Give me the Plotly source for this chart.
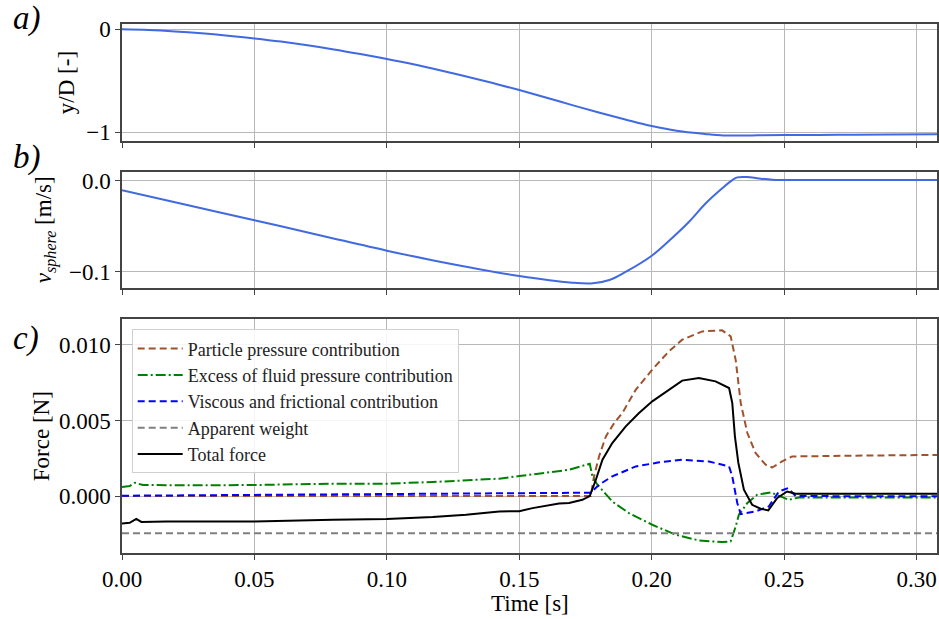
import plotly.graph_objects as go

# ---------------- data ----------------
# a) normalised vertical position
t_pos = [0, 0.01, 0.02, 0.03, 0.04, 0.05, 0.06, 0.07, 0.08, 0.09, 0.10, 0.11, 0.12, 0.13,
         0.14, 0.15, 0.16, 0.17, 0.18, 0.19, 0.20, 0.21, 0.22, 0.227, 0.235, 0.24, 0.25,
         0.27, 0.29, 0.3077]
y_pos = [0, -0.007, -0.020, -0.038, -0.061, -0.088, -0.119, -0.155, -0.195, -0.240, -0.288,
         -0.340, -0.397, -0.458, -0.522, -0.590, -0.662, -0.736, -0.808, -0.876, -0.940,
         -0.988, -1.016, -1.031, -1.032, -1.030, -1.027, -1.025, -1.022, -1.020]

# b) sphere velocity
t_vel = [0, 0.025, 0.05, 0.075, 0.10, 0.12, 0.15, 0.17, 0.1778, 0.184, 0.1903, 0.2,
         0.2078, 0.2141, 0.2204, 0.2266, 0.2304, 0.2323, 0.236, 0.2405, 0.2455, 0.25, 0.3077]
v_vel = [-0.0103, -0.0268, -0.0433, -0.0600, -0.0768, -0.0890, -0.1048, -0.1121, -0.1128,
         -0.1092, -0.1000, -0.0824, -0.0625, -0.0449, -0.0246, -0.0080, 0.0010, 0.0040,
         0.0044, 0.0028, 0.0014, 0.0011, 0.0011]

# c) force contributions
t_part = [0, 0.1770, 0.1782, 0.1801, 0.1827, 0.1858, 0.1889, 0.1940, 0.2002, 0.2065, 0.2115,
          0.2191, 0.2266, 0.2298, 0.2317, 0.2336, 0.2361, 0.2392, 0.2430, 0.2455, 0.2492,
          0.2530, 0.28, 0.3077]
f_part = [0, 0, 0.00129, 0.00262, 0.00395, 0.00483, 0.00550, 0.00704, 0.00837, 0.00958,
          0.01035, 0.01090, 0.01097, 0.01057, 0.00900, 0.00616, 0.00417, 0.00285, 0.00207,
          0.00189, 0.00229, 0.00262, 0.00268, 0.00272]

t_fluid = [0, 0.0029, 0.0048, 0.0079, 0.0294, 0.05, 0.0796, 0.10, 0.1173, 0.1299, 0.1424,
           0.15, 0.1613, 0.1688, 0.1766, 0.1776, 0.1795, 0.1851, 0.1914, 0.2002, 0.2090,
           0.2178, 0.2266, 0.2298, 0.2317, 0.2329, 0.2361, 0.2398, 0.2449, 0.2480, 0.2518,
           0.2555, 0.3077]
f_fluid = [0.00060, 0.00066, 0.00088, 0.00073, 0.00071, 0.00073, 0.00082, 0.00082, 0.00093,
           0.00106, 0.00115, 0.00132, 0.00155, 0.00174, 0.00214, 0.00130, 0.00075, -0.00036,
           -0.00113, -0.00190, -0.00256, -0.00294, -0.00305, -0.00300, -0.00201, -0.00124,
           -0.00046, 0.00009, 0.00024, 0.00004, -0.00025, -0.00009, -0.00009]

t_visc = [0, 0.10, 0.1700, 0.1770, 0.1801, 0.1851, 0.1940, 0.2028, 0.2115, 0.2216, 0.2292,
          0.2304, 0.2323, 0.2336, 0.2392, 0.2442, 0.2480, 0.2515, 0.2543, 0.3077]
f_visc = [0.00002, 0.00013, 0.00022, 0.00022, 0.00075, 0.00130, 0.00196, 0.00223, 0.00240,
          0.00229, 0.00196, 0.00130, -0.00046, -0.00119, -0.00102, -0.00069, 0.00030,
          0.00053, 0.00000, -0.00002]

t_weight = [0, 0.3077]
f_weight = [-0.00247, -0.00247]

t_total = [0, 0.0029, 0.0054, 0.0073, 0.0167, 0.05, 0.0796, 0.10, 0.1173, 0.1299, 0.1424,
           0.15, 0.155, 0.165, 0.1688, 0.1738, 0.1766, 0.1789, 0.1814, 0.1851, 0.1902,
           0.1952, 0.2002, 0.2065, 0.2115, 0.2178, 0.2241, 0.2292, 0.2304, 0.2314, 0.2327,
           0.2348, 0.2379, 0.2411, 0.2440, 0.2474, 0.2511, 0.2543, 0.3077]
f_total = [-0.00181, -0.00177, -0.00151, -0.00171, -0.00168, -0.00168, -0.00157, -0.00152,
           -0.00139, -0.00124, -0.00102, -0.00100, -0.00080, -0.00050, -0.00046, -0.00025,
           0.00000, 0.00108, 0.00240, 0.00351, 0.00461, 0.00550, 0.00627, 0.00704, 0.00764,
           0.00781, 0.00759, 0.00715, 0.00616, 0.00395, 0.00219, 0.00042, -0.00058,
           -0.00084, -0.00095, -0.00013, 0.00030, 0.00015, 0.00016]

x_ticks = [0.00, 0.05, 0.10, 0.15, 0.20, 0.25, 0.30]
names = ["Particle pressure contribution", "Excess of fluid pressure contribution",
         "Viscous and frictional contribution", "Apparent weight", "Total force"]

# ---------------- figure ----------------
FONT = "Liberation Serif"
FS = 23
fig = go.Figure()

fig.add_trace(go.Scatter(x=t_pos, y=y_pos, mode="lines", line=dict(color="#4169E1", width=2),
                         line_shape="spline", showlegend=False, xaxis="x", yaxis="y"))
fig.add_trace(go.Scatter(x=t_vel, y=v_vel, mode="lines", line=dict(color="#4169E1", width=2),
                         line_shape="spline", showlegend=False, xaxis="x2", yaxis="y2"))

fig.add_trace(go.Scatter(x=t_part, y=f_part, mode="lines", name=names[0],
                         line=dict(color="#A0522D", width=2, dash="7px,4px"),
                         xaxis="x3", yaxis="y3"))
fig.add_trace(go.Scatter(x=t_fluid, y=f_fluid, mode="lines", name=names[1],
                         line=dict(color="#008000", width=2, dash="10px,3px,2px,3px"),
                         xaxis="x3", yaxis="y3"))
fig.add_trace(go.Scatter(x=t_visc, y=f_visc, mode="lines", name=names[2],
                         line=dict(color="#0000FF", width=2, dash="7px,4px"),
                         xaxis="x3", yaxis="y3"))
fig.add_trace(go.Scatter(x=t_weight, y=f_weight, mode="lines", name=names[3],
                         line=dict(color="#808080", width=2, dash="7px,4px"),
                         xaxis="x3", yaxis="y3"))
fig.add_trace(go.Scatter(x=t_total, y=f_total, mode="lines", name=names[4],
                         line=dict(color="black", width=2),
                         xaxis="x3", yaxis="y3"))

axis_common = dict(showline=True, mirror=True, linecolor="#444", linewidth=1.5,
                   showgrid=True, gridcolor="#b8b8b8", gridwidth=1, zeroline=False,
                   ticks="outside", ticklen=5, tickcolor="#444", tickwidth=1,
                   tickfont=dict(family=FONT, size=FS, color="black"))

xr = [0, 0.3077]
fig.update_layout(
    width=939, height=619,
    margin=dict(l=122, r=0, t=24, b=66),
    paper_bgcolor="white", plot_bgcolor="white",
    font=dict(family=FONT, size=FS, color="black"),
    xaxis=dict(domain=[0, 1], anchor="y", range=xr, tickvals=x_ticks, showticklabels=False,
               **axis_common),
    xaxis2=dict(domain=[0, 1], anchor="y2", range=xr, tickvals=x_ticks, showticklabels=False,
                matches="x", **axis_common),
    xaxis3=dict(domain=[0, 1], anchor="y3", range=xr, tickvals=x_ticks, tickformat=".2f",
                matches="x", **axis_common),
    yaxis=dict(domain=[0.7788, 1.0], anchor="x", range=[-1.085, 0.052],
               tickvals=[0, -1], tickformat="d", **axis_common),
    yaxis2=dict(domain=[0.5009, 0.7202], anchor="x2", range=[-0.118, 0.0099],
                tickvals=[0.0, -0.1], tickformat=".1f", **axis_common),
    yaxis3=dict(domain=[0, 0.4418], anchor="x3", range=[-0.00377, 0.0117],
                tickvals=[0.0, 0.005, 0.010], tickformat=".3f", **axis_common),
    legend=dict(x=0.0119, y=0.4229, xanchor="left", yanchor="top", itemwidth=45,
                bgcolor="rgba(255,255,255,0.85)", bordercolor="#d0d0d0", borderwidth=1,
                font=dict(family=FONT, size=18, color="#222"), tracegroupgap=0),
)

annos = [
    dict(text="<i>a)</i>", x=-0.136, y=1.0113, xanchor="left", yanchor="middle",
         font=dict(family=FONT, size=33)),
    dict(text="<i>b)</i>", x=-0.136, y=0.7467, xanchor="left", yanchor="middle",
         font=dict(family=FONT, size=33)),
    dict(text="<i>c)</i>", x=-0.136, y=0.4064, xanchor="left", yanchor="middle",
         font=dict(family=FONT, size=33)),
    dict(text="y/D [-]", x=(67 - 122) / 817, y=(553 - 83) / 529, textangle=-90,
         xanchor="center", yanchor="middle", font=dict(family=FONT, size=FS)),
    dict(text="<i>v</i><sub><i>sphere</i></sub> [m/s]", x=(45 - 122) / 817,
         y=(553 - 230) / 529, textangle=-90, xanchor="center", yanchor="middle",
         font=dict(family=FONT, size=FS)),
    dict(text="Force [N]", x=(41 - 122) / 817, y=(553 - 436) / 529, textangle=-90,
         xanchor="center", yanchor="middle", font=dict(family=FONT, size=FS)),
    dict(text="Time [s]", x=0.5, y=(553 - 603) / 529, xanchor="center", yanchor="middle",
         font=dict(family=FONT, size=FS)),
]
for a in annos:
    a.update(xref="paper", yref="paper", showarrow=False)
fig.update_layout(annotations=annos)

fig.write_html("out.html", config={"displayModeBar": False},
               post_script="document.body.style.margin='0';document.body.style.padding='0';"
                           "document.documentElement.style.overflow='hidden';")
